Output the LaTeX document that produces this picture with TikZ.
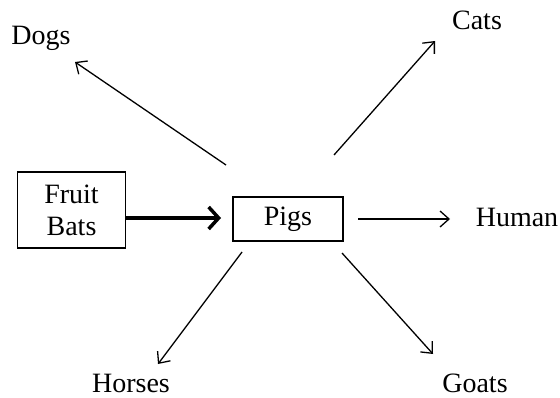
\documentclass[tikz,border=0pt]{standalone}
\usepackage{fontspec}
\setmainfont{Liberation Serif}
\usetikzlibrary{arrows.meta}
\begin{document}
\begin{tikzpicture}[x=1pt,y=-1pt,
  lbl/.style={inner sep=0pt,anchor=base,font=\fontsize{28}{32}\selectfont},
  boxnode/.style={draw,line width=1.5pt,inner sep=0pt,font=\fontsize{28}{32}\selectfont,align=center},
  thin/.style={line width=1.3pt,-{Straight Barb[length=9pt,width=16pt,line width=1.3pt]}},
  thick/.style={line width=4pt,-{Straight Barb[length=10pt,width=22pt,line width=3.5pt]}}]
\useasboundingbox (0,0) rectangle (560,398);
\node[boxnode,minimum width=108pt,minimum height=76pt] (bats) at (71.5,210) {Fruit\\Bats};
\node[boxnode,minimum width=110pt,minimum height=44pt] (pigs) at (288,219) {Pigs};
\node[lbl] (dogs) at (41,45) {Dogs};
\node[lbl] (cats) at (477,30) {Cats};
\node[lbl] (human) at (517,227) {Human};
\node[lbl] (horses) at (131,392) {Horses};
\node[lbl] (goats) at (475,392) {Goats};
\coordinate (batsend) at (221,218);
\coordinate (dogsA) at (226,165);
\coordinate (dogsB) at (75,62);
\coordinate (catsA) at (334,155);
\coordinate (catsB) at (435,41);
\coordinate (humanA) at (358,219);
\coordinate (humanB) at (450,219);
\coordinate (horsesA) at (242,252);
\coordinate (horsesB) at (158,364);
\coordinate (goatsA) at (342,253);
\coordinate (goatsB) at (433,354);
\draw[thick] (bats.east |- batsend) -- (batsend);
\draw[thin] (dogsA) -- (dogsB);
\draw[thin] (catsA) -- (catsB);
\draw[thin] (humanA) -- (humanB);
\draw[thin] (horsesA) -- (horsesB);
\draw[thin] (goatsA) -- (goatsB);
\end{tikzpicture}
\end{document}
